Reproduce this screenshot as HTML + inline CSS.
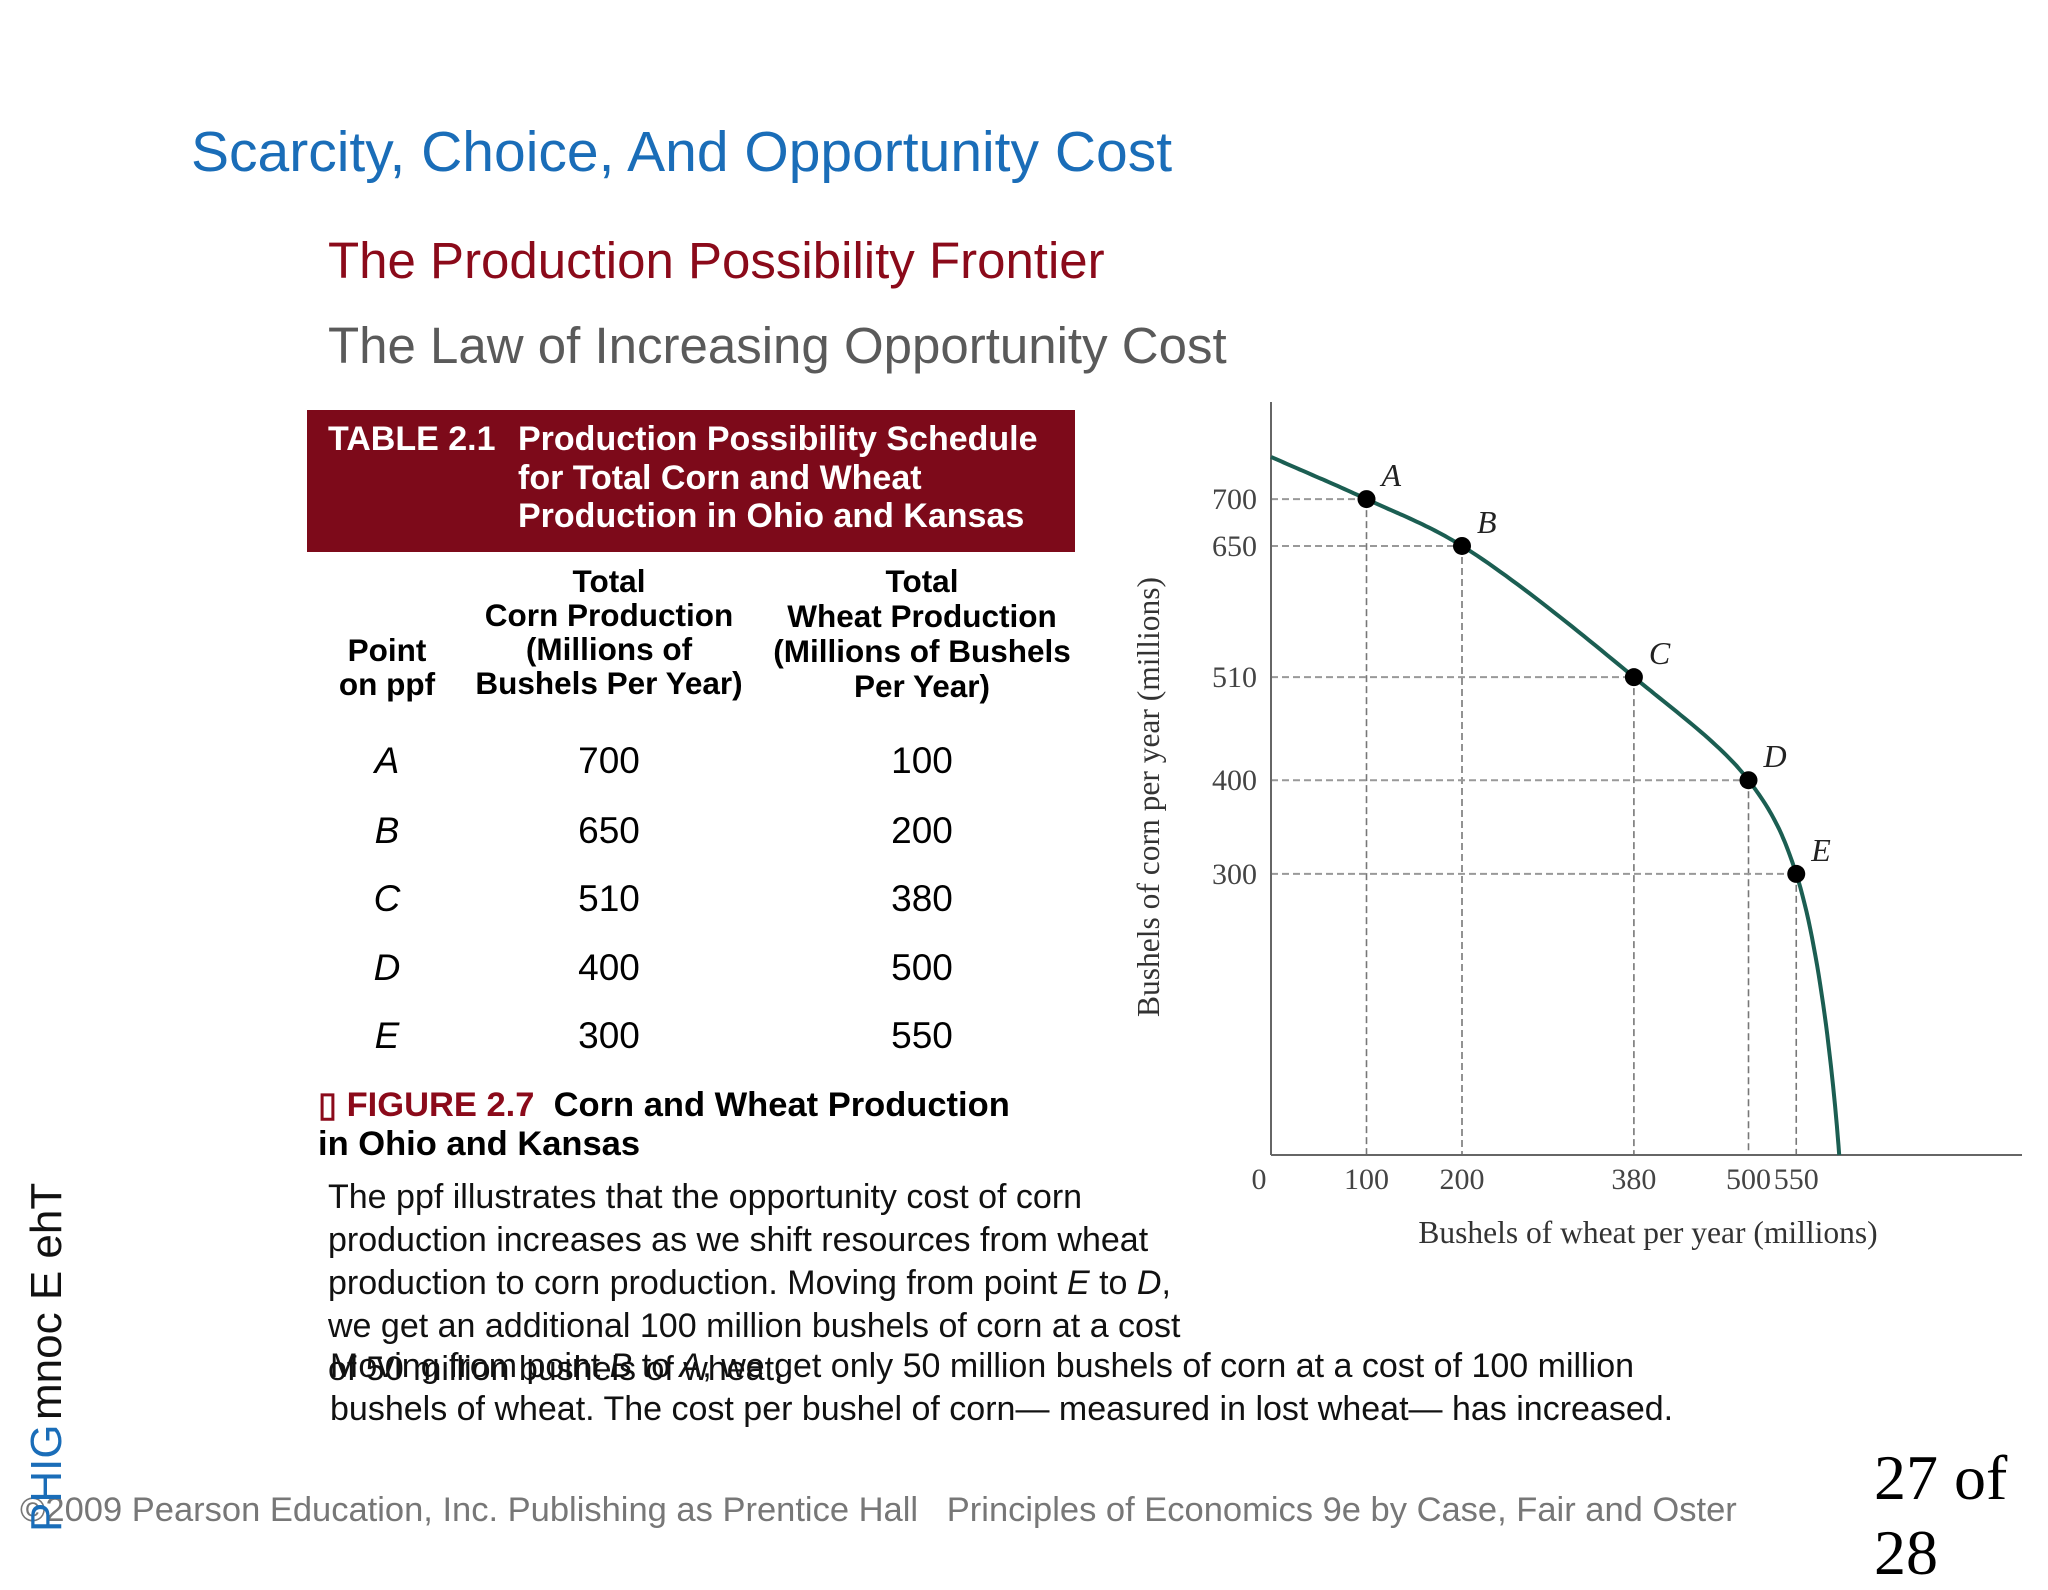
<!DOCTYPE html>
<html><head><meta charset="utf-8"><style>
body{margin:0;width:2048px;height:1536px;background:#fff;position:relative;overflow:hidden;font-family:"Liberation Sans",Arial,sans-serif}
.a{position:absolute;white-space:nowrap}
.hd{color:#fff;font-weight:bold;font-size:34px}
.ch{font-weight:bold;font-size:31.5px;text-align:center;line-height:34px}
.cell{font-size:37px;text-align:center;width:200px}
.p{font-size:34px;color:#111}
</style></head><body>
<div class="a" style="left:191px;top:119px;font-size:57px;color:#1a6db8">Scarcity, Choice, And Opportunity Cost</div>
<div class="a" style="left:328px;top:231px;font-size:51px;color:#8b0a1a">The Production Possibility Frontier</div>
<div class="a" style="left:328px;top:316px;font-size:51px;color:#5a5a5a">The Law of Increasing Opportunity Cost</div>

<div class="a" style="left:307px;top:410px;width:768px;height:142px;background:#7d0a1a"></div>
<div class="a hd" style="left:328px;top:420px">TABLE 2.1</div>
<div class="a hd" style="left:518px;top:420px;line-height:38.5px">Production Possibility Schedule<br>for Total Corn and Wheat<br>Production in Ohio and Kansas</div>

<div class="a ch" style="left:287px;top:633px;width:200px">Point<br>on ppf</div>
<div class="a ch" style="left:449px;top:564px;width:320px">Total<br>Corn Production<br>(Millions of<br>Bushels Per Year)</div>
<div class="a ch" style="left:752px;top:564px;width:340px;line-height:35px">Total<br>Wheat Production<br>(Millions of Bushels<br>Per Year)</div>
<div id="rows"></div>

<div class="a" style="left:318px;top:1086px;font-size:34.5px;font-weight:bold;line-height:39px"><span style="color:#8b0a1a">▯ FIGURE 2.7</span>&nbsp; Corn and Wheat Production<br>in Ohio and Kansas</div>
<div class="a p" style="left:328px;top:1176px;line-height:43px">The ppf illustrates that the opportunity cost of corn<br>production increases as we shift resources from wheat<br>production to corn production. Moving from point <i>E</i> to <i>D</i>,<br>we get an additional 100 million bushels of corn at a cost<br>of 50 million bushels of wheat.</div>
<div class="a p" style="left:330px;top:1345px;line-height:43px">Moving from point <i>B</i> to <i>A</i>, we get only 50 million bushels of corn at a cost of 100 million<br>bushels of wheat. The cost per bushel of corn— measured in lost wheat— has increased.</div>

<div class="a" style="left:20px;top:1491px;font-size:34.5px;color:#777">©2009 Pearson Education, Inc. Publishing as Prentice Hall &nbsp; Principles of Economics 9e by Case, Fair and Oster</div>
<div class="a" style="left:1874px;top:1440px;font-size:64px;font-family:'Liberation Serif',serif;line-height:75px">27 of<br>28</div>
<div class="a" style="left:22px;top:1420px;transform-origin:0 0;transform:rotate(-90deg);font-size:44px;color:#111">mnoc E ehT</div>
<div class="a" style="left:22px;top:1532px;transform-origin:0 0;transform:rotate(-90deg);font-size:44px;color:#1a6db8">PHIG</div>

<svg id="chart" style="position:absolute;left:0;top:0" width="2048" height="1536"></svg>
<script>
const pointLabels=["A","B","C","D","E"];
const corn=[700,650,510,400,300];
const wheat=[100,200,380,500,550];
const curveWheat=[0,100,200,380,500,550,595];
const curveCorn=[745,700,650,510,400,300,0];
const yTicks=[700,650,510,400,300];
const xTicks=[0,100,200,380,500,550];

const rows=document.getElementById('rows');
const rowTops=[761,831,899,968,1036];
pointLabels.forEach((l,i)=>{
  [[l,287,true],[corn[i],509,false],[wheat[i],822,false]].forEach(([t,x,it],j)=>{
    const d=document.createElement('div');
    d.className='a cell';
    d.style.left=x+'px';d.style.top=(rowTops[i]-21)+'px';
    if(it)d.style.fontStyle='italic';
    d.textContent=t;
    
    
    rows.appendChild(d);
  });
});

const X0=1271,Y0=1155,KX=0.955,KY=0.937;
const sx=v=>X0+v*KX, sy=v=>Y0-v*KY;
const svg=document.getElementById('chart');
const NS='http://www.w3.org/2000/svg';
function mk(tag,attrs,name){const e=document.createElementNS(NS,tag);for(const k in attrs)e.setAttribute(k,attrs[k]);


svg.appendChild(e);return e;}
function txt(x,y,s,attrs,name){const e=mk('text',Object.assign({x:x,y:y,'font-family':'Liberation Serif, serif'},attrs),name);e.textContent=s;return e;}

pointLabels.forEach((l,i)=>{
  mk('line',{x1:X0,y1:sy(corn[i]),x2:sx(wheat[i]),y2:sy(corn[i]),stroke:'#999','stroke-width':2,'stroke-dasharray':'7 4'},'h-guide');
  mk('line',{x1:sx(wheat[i]),y1:sy(corn[i]),x2:sx(wheat[i]),y2:Y0,stroke:'#777','stroke-width':1.6,'stroke-dasharray':'7 4'},'v-guide');
});
mk('line',{x1:X0,y1:402,x2:X0,y2:Y0,stroke:'#666','stroke-width':2},'y-axis');
mk('line',{x1:X0,y1:Y0,x2:2022,y2:Y0,stroke:'#666','stroke-width':2},'x-axis');

// centripetal Catmull-Rom
const P=curveWheat.map((w,i)=>[sx(w),sy(curveCorn[i])]);
const ext=[[2*P[0][0]-P[1][0],2*P[0][1]-P[1][1]],...P,[P[P.length-1][0],P[P.length-1][1]+ (P[P.length-1][1]-P[P.length-2][1])]];
function lerp(a,b,ta,tb,t){const u=(tb===ta)?0:(t-ta)/(tb-ta);return [a[0]+(b[0]-a[0])*u,a[1]+(b[1]-a[1])*u];}
let pts=[P[0]];
for(let i=1;i<ext.length-2;i++){
  const p0=ext[i-1],p1=ext[i],p2=ext[i+1],p3=ext[i+2];
  const dt=(a,b)=>Math.pow(Math.hypot(b[0]-a[0],b[1]-a[1]),0.5)||1e-4;
  const t0=0,t1=t0+dt(p0,p1),t2=t1+dt(p1,p2),t3=t2+dt(p2,p3);
  for(let k=1;k<=30;k++){
    const t=t1+(t2-t1)*k/30;
    const A1=lerp(p0,p1,t0,t1,t),A2=lerp(p1,p2,t1,t2,t),A3=lerp(p2,p3,t2,t3,t);
    const B1=lerp(A1,A2,t0,t2,t),B2=lerp(A2,A3,t1,t3,t);
    pts.push(lerp(B1,B2,t1,t2,t));
  }
}
mk('path',{d:'M'+pts.map(p=>p[0].toFixed(1)+','+p[1].toFixed(1)).join(' L'),fill:'none',stroke:'#1b5e52','stroke-width':4},'ppf-curve');

pointLabels.forEach((l,i)=>{
  mk('circle',{cx:sx(wheat[i]),cy:sy(corn[i]),r:9,fill:'#000'},'point-'+l);
  txt(sx(wheat[i])+15,sy(corn[i])-13,l,{'font-size':32,'font-style':'italic',fill:'#222'},'label-'+l);
});
yTicks.forEach(v=>txt(1257,sy(v)+10,v,{'font-size':30,fill:'#444','text-anchor':'end'},'y-tick'));
xTicks.forEach(v=>txt(v===0?1259:sx(v),1189,v,{'font-size':30,fill:'#444','text-anchor':'middle'},'x-tick'));
txt(1648,1243,'Bushels of wheat per year (millions)',{'font-size':31.5,fill:'#333','text-anchor':'middle'},'x-axis-title');
txt(0,0,'Bushels of corn per year (millions)',{'font-size':31.5,fill:'#333','text-anchor':'middle',transform:'translate(1159,797) rotate(-90)'},'y-axis-title');
</script>
</body></html>
